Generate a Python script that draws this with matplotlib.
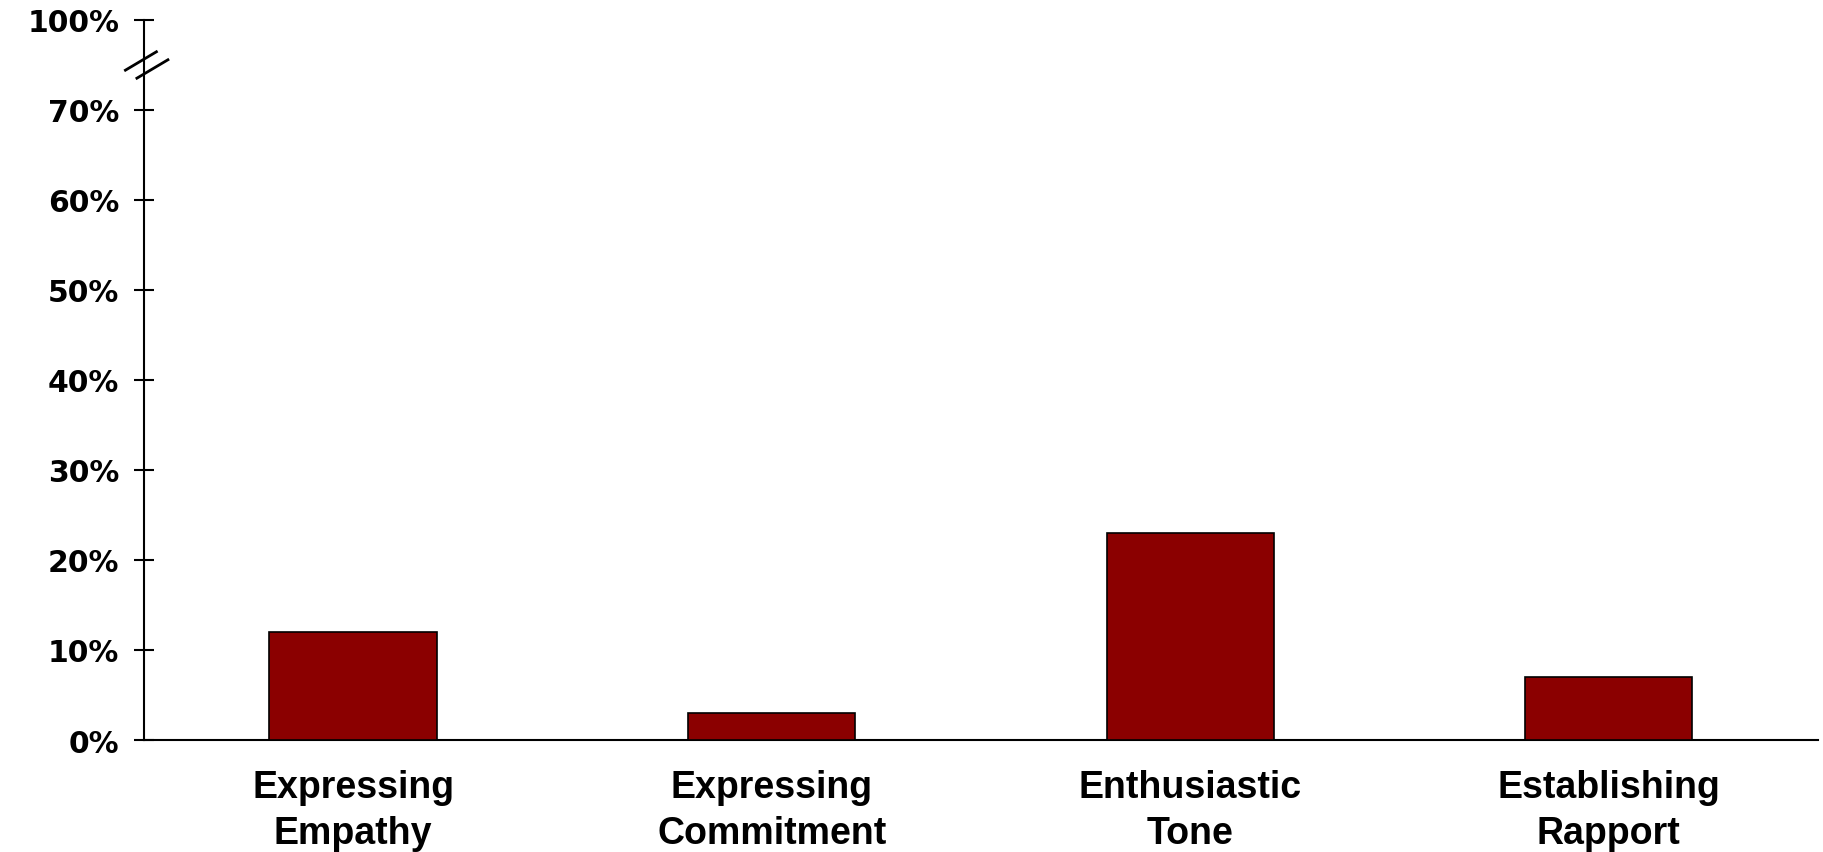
import matplotlib
matplotlib.use("Agg")
import matplotlib.pyplot as plt
from matplotlib.lines import Line2D
from matplotlib.transforms import IdentityTransform

categories = ["Expressing\nEmpathy", "Expressing\nCommitment", "Enthusiastic\nTone", "Establishing\nRapport"]
values = [12, 3, 23, 7]
ytick_values = [0, 10, 20, 30, 40, 50, 60, 70, 80]
ytick_labels = ["0%", "10%", "20%", "30%", "40%", "50%", "60%", "70%", "100%"]
break_value = 75

bar_color = "#8B0000"

fig = plt.figure(figsize=(18.24, 8.53), dpi=100)
ax = fig.add_axes([0.0789, 0.1313, 0.9178, 0.8441])

x = list(range(len(categories)))
ax.bar(x, values, width=0.4, color=bar_color, edgecolor="black", linewidth=1.2, zorder=3)

ax.set_xlim(-0.5, len(categories) - 0.5)
ax.set_ylim(0, 80)

for side in ("top", "right"):
    ax.spines[side].set_visible(False)
for side in ("left", "bottom"):
    ax.spines[side].set_linewidth(1.5)

ax.set_yticks(ytick_values)
ax.set_yticklabels(ytick_labels, fontsize=21.5, fontweight="bold", family="DejaVu Sans")
ax.tick_params(axis="y", direction="inout", length=14.5, width=1.5, pad=10.5)

ax.set_xticks(x)
ax.set_xticklabels(categories, fontsize=27, fontweight="bold",
                   family="Liberation Sans", linespacing=1.34)
ax.tick_params(axis="x", length=0, pad=21)

# Axis break marks between 70% and 100%
fig.canvas.draw()
cx, cy = ax.transData.transform((-0.5, break_value))
for ox, oy in ((-3, 4), (8.5, -4)):
    mx, my = cx + ox, cy + oy
    dx, dy = 15.5, 9.2
    fig.add_artist(Line2D([mx - dx, mx + dx], [my - dy, my + dy],
                          transform=IdentityTransform(), color="black",
                          linewidth=2.0, zorder=5))

fig.savefig("out.png", dpi=100)
